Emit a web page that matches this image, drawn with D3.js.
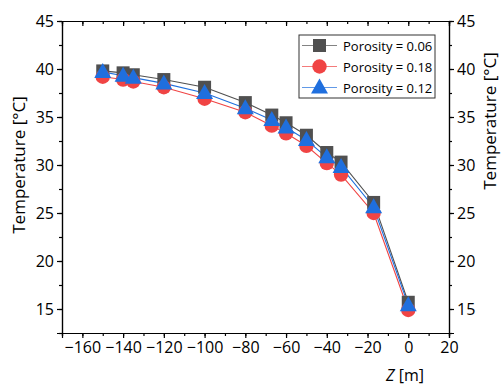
<!DOCTYPE html>
<html><head><meta charset="utf-8">
<script src="https://cdn.jsdelivr.net/npm/d3@7"></script>
<style>
body{margin:0;background:#fff;}
svg{display:block;font-family:"Open Sans",sans-serif;}
</style></head>
<body><svg id="c" width="502" height="385"></svg>
<script>
const depth = [-150, -140, -135, -120, -100, -80, -67, -60, -50, -40, -33, -17, 0];
const temp006 = [39.8, 39.6, 39.4, 38.9, 38.1, 36.5, 35.2, 34.4, 33.1, 31.3, 30.3, 26.1, 15.7];
const temp018 = [39.2, 38.9, 38.7, 38.1, 36.9, 35.5, 34.1, 33.3, 32.0, 30.2, 29.0, 25.0, 14.9];
const temp012 = [39.7, 39.3, 39.1, 38.5, 37.5, 35.9, 34.7, 33.9, 32.6, 30.8, 29.8, 25.6, 15.4];
const seriesNames = ["Porosity = 0.06", "Porosity = 0.18", "Porosity = 0.12"];
const xTicks = [-160, -140, -120, -100, -80, -60, -40, -20, 0, 20];
const yTicks = [15, 20, 25, 30, 35, 40, 45];

const svg = d3.select("#c");
const L = 62, R = 449, T = 21, B = 333;
const x = d3.scaleLinear().domain([-170, 20]).range([L, R]);
const y = d3.scaleLinear().domain([12.5, 45]).range([B, T]);

const series = [
  {name: seriesNames[0], vals: temp006, color: "#505050", line: "#505050", shape: "square"},
  {name: seriesNames[1], vals: temp018, color: "#f04444", line: "#f04444", shape: "circle"},
  {name: seriesNames[2], vals: temp012, color: "#1f6fde", line: "#1f6fde", shape: "triangle"}
];

const fmt = d => d < 0 ? "\u2212" + Math.abs(d) : d;
const xMinor = d3.range(-170, 21, 10);
const yMinor = d3.range(12.5, 45.01, 2.5);
function styleAxis(g){
  g.select(".domain").attr("stroke","#000").attr("stroke-width",1.2);
  g.selectAll(".tick line").attr("stroke","#000").attr("stroke-width",1.2);
  g.selectAll("text").attr("font-size","16px").attr("fill","#000").attr("font-family","Open Sans, sans-serif");
}
svg.append("g").attr("transform",`translate(0,${B})`).call(d3.axisBottom(x).tickValues(xMinor).tickSize(3).tickFormat("")).call(styleAxis);
svg.append("g").attr("transform",`translate(0,${T})`).call(d3.axisBottom(x).tickValues(xMinor).tickSize(3).tickFormat("")).call(styleAxis);
svg.append("g").attr("transform",`translate(${L},0)`).call(d3.axisLeft(y).tickValues(yMinor).tickSize(3).tickFormat("")).call(styleAxis);
svg.append("g").attr("transform",`translate(${R},0)`).call(d3.axisRight(y).tickValues(yMinor).tickSize(3).tickFormat("")).call(styleAxis);
svg.append("g").attr("transform",`translate(0,${B})`).call(d3.axisBottom(x).tickValues(xTicks).tickSize(5).tickPadding(4).tickFormat(fmt)).call(styleAxis);
svg.append("g").attr("transform",`translate(0,${T})`).call(d3.axisBottom(x).tickValues(xTicks).tickSize(5).tickFormat("")).call(styleAxis);
svg.append("g").attr("transform",`translate(${L},0)`).call(d3.axisLeft(y).tickValues(yTicks).tickSize(5).tickPadding(3).tickFormat(fmt)).call(styleAxis);
svg.append("g").attr("transform",`translate(${R},0)`).call(d3.axisRight(y).tickValues(yTicks).tickSize(5).tickPadding(3).tickFormat(fmt)).call(styleAxis);

svg.append("text").attr("transform",`translate(25,165) rotate(-90)`).attr("text-anchor","middle")
  .attr("font-size","17px").text("Temperature [°C]");
svg.append("text").attr("transform",`translate(496,121) rotate(-90)`).attr("text-anchor","middle")
  .attr("font-size","17px").text("Temperature [°C]");
const xt = svg.append("text").attr("x",405).attr("y",381).attr("text-anchor","middle").attr("font-size","16px");
xt.append("tspan").attr("font-style","italic").text("Z");
xt.append("tspan").text(" [m]");

const line = d3.line().x((d,i)=>x(depth[i])).y(d=>y(d));
series.forEach(s=>{
  svg.append("path").datum(s.vals).attr("d",line).attr("fill","none").attr("stroke",s.line).attr("stroke-width",1.1);
});
function marker(g, shape, color, cx, cy){
  if(shape==="square") g.append("rect").attr("x",cx-6.5).attr("y",cy-6.5).attr("width",13).attr("height",13).attr("fill",color);
  else if(shape==="circle") g.append("circle").attr("cx",cx).attr("cy",cy).attr("r",7.2).attr("fill",color);
  else g.append("path").attr("d",`M${cx},${cy-9}L${cx+8.5},${cy+6}L${cx-8.5},${cy+6}Z`).attr("fill",color);
}
series.forEach(s=>{
  const g = svg.append("g");
  s.vals.forEach((v,i)=>marker(g, s.shape, s.color, x(depth[i]), y(v)));
});

const lg = svg.append("g");
lg.append("rect").attr("x",299).attr("y",35).attr("width",136).attr("height",63).attr("fill","#fff").attr("stroke","#333").attr("stroke-width",1);
series.forEach((s,i)=>{
  const yy = 45.5 + i*21;
  lg.append("line").attr("x1",302).attr("x2",337).attr("y1",yy).attr("y2",yy).attr("stroke",s.line).attr("stroke-width",1.1).attr("opacity",0.7);
  marker(lg, s.shape, s.color, 319.5, yy);
  lg.append("text").attr("x",343).attr("y",yy+5).attr("font-size","13px").text(s.name);
});
</script></body></html>
